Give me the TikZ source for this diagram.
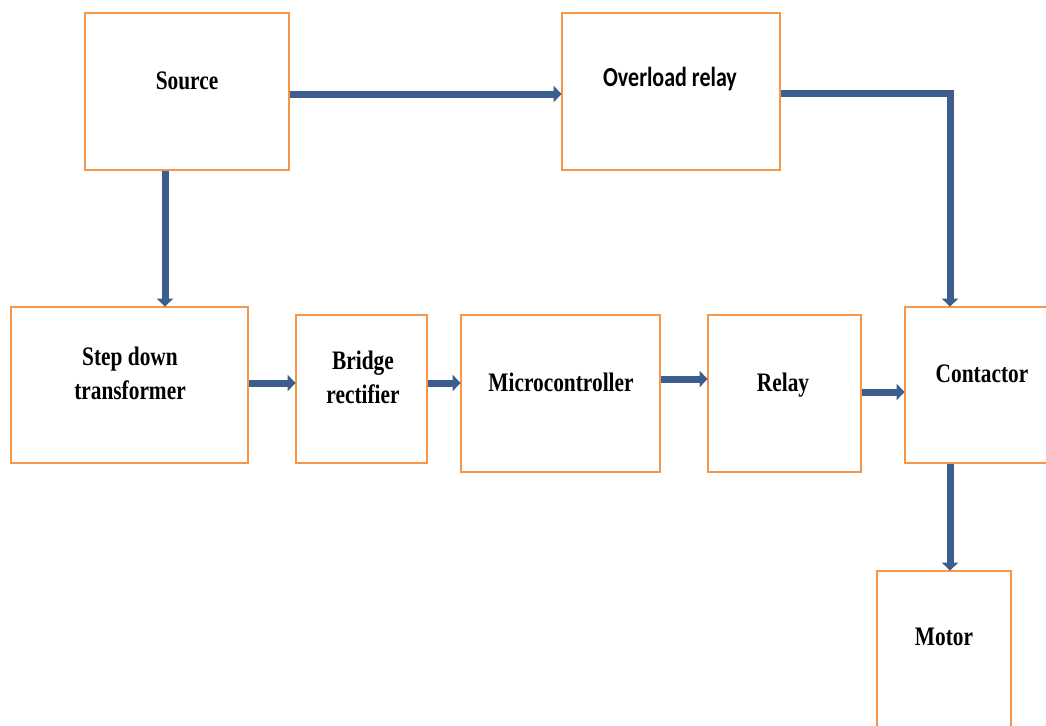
\documentclass[tikz,border=0pt]{standalone}
\usepackage{fontspec}
\usetikzlibrary{arrows.meta}
\newfontfamily\serifb[FakeStretch=0.8]{Liberation Serif}
\newfontfamily\calib[FakeStretch=0.80]{Carlito}
\definecolor{boxorange}{HTML}{F79646}
\definecolor{arrowblue}{HTML}{3B5E8E}
\tikzset{
  box/.style={draw=boxorange, line width=2.8pt, fill=white, rectangle, inner sep=0pt},
  lbl/.style={font=\serifb\bfseries\fontsize{26.7}{34}\selectfont, text=black, align=center, inner sep=0pt},
  lblsans/.style={font=\calib\bfseries\fontsize{27.5}{34}\selectfont, text=black, inner sep=0pt},
  conn/.style={draw=arrowblue, line width=7pt, -{Triangle[length=8pt,width=16pt]}, shorten >=-1pt}
}
\begin{document}
\begin{tikzpicture}[x=1pt,y=-1pt]
\clip (0,0) rectangle (1046,725);
\fill[white] (0,0) rectangle (1046,725);
% boxes
\node[box, minimum width=204pt, minimum height=157pt] (src) at (187,91.5) {};
\node[box, minimum width=218pt, minimum height=157pt] (ovl) at (671,91.5) {};
\node[box, minimum width=237pt, minimum height=156pt] (sd) at (129.5,385) {};
\node[box, minimum width=131pt, minimum height=148pt] (br) at (361.5,389) {};
\node[box, minimum width=199pt, minimum height=157pt] (mc) at (560.5,393.5) {};
\node[box, minimum width=153pt, minimum height=157pt] (rl) at (784.5,393.5) {};
\node[box, minimum width=155pt, minimum height=156pt] (ct) at (982.5,385) {};
\node[box, minimum width=134pt, minimum height=174pt] (mt) at (944,658) {};
% labels
\node[lbl, anchor=base] (srcT) at (187,89) {Source};
\node[lblsans, anchor=base] (ovlT) at (670,86) {Overload relay};
\node[lbl] (sdT) at (130,373) {Step down\\transformer};
\node[lbl] (brT) at (363,377) {Bridge\\rectifier};
\node[lbl, anchor=base] (mcT) at (561,391) {Microcontroller};
\node[lbl, anchor=base] (rlT) at (783,391) {Relay};
\node[lbl, anchor=base] (ctT) at (982,382) {Contactor};
\node[lbl, anchor=base] (mtT) at (944,645) {Motor};
% connectors
\draw[conn] (165,0 |- src.south) -- (165,0 |- sd.north);
\draw[conn] (src.east |- 0,94) -- (ovl.west |- 0,94);
\draw[conn] (ovl.east |- 0,93) -| (950,0 |- ct.north);
\draw[conn] (sd.east |- 0,383) -- (br.west |- 0,383);
\draw[conn] (br.east |- 0,383) -- (mc.west |- 0,383);
\draw[conn] (mc.east |- 0,379) -- (rl.west |- 0,379);
\draw[conn] (rl.east |- 0,392) -- (ct.west |- 0,392);
\draw[conn] (950,0 |- ct.south) -- (950,0 |- mt.north);
\end{tikzpicture}
\end{document}
